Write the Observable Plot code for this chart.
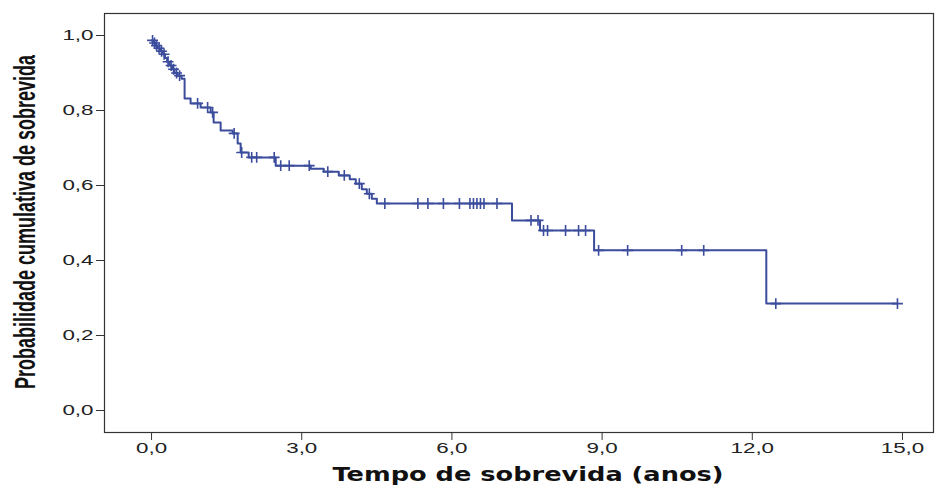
<!DOCTYPE html>
<html>
<head>
<meta charset="utf-8">
<script src="https://cdn.jsdelivr.net/npm/d3@7"></script>
<script src="https://cdn.jsdelivr.net/npm/@observablehq/plot@0.6"></script>
<style>
  body { margin: 0; background: #fff; }
  #chart { position: relative; width: 935px; height: 486px; }
</style>
</head>
<body>
<div id="chart"></div>
<script>
// Kaplan-Meier step curve: time (years) at which survival drops, and survival after the drop
const eventTimes = [0.0, 0.04, 0.08, 0.12, 0.17, 0.22, 0.27, 0.31, 0.36, 0.41, 0.46, 0.52, 0.60, 0.66,
  0.78, 0.98, 1.18, 1.24, 1.38, 1.62, 1.72, 1.78, 1.94, 2.48, 3.18, 3.44, 3.74, 3.96, 4.08, 4.20, 4.30,
  4.40, 4.50, 7.20, 7.76, 8.84, 12.28];
const survival = [0.987, 0.980, 0.973, 0.966, 0.958, 0.950, 0.940, 0.930, 0.920, 0.910, 0.900, 0.893, 0.885, 0.832,
  0.819, 0.808, 0.795, 0.768, 0.747, 0.739, 0.712, 0.688, 0.675, 0.653, 0.645, 0.637, 0.627, 0.617, 0.605, 0.590, 0.578,
  0.565, 0.552, 0.507, 0.480, 0.427, 0.285];
const lastTime = 14.9;

// censored observations (years)
const censorTimes = [0.02, 0.06, 0.10, 0.15, 0.20, 0.25, 0.33, 0.39, 0.44, 0.50, 0.56,
  0.92, 1.12, 1.22, 1.65, 1.80, 2.00, 2.10, 2.45, 2.58, 2.75, 3.15, 3.52, 3.85, 4.15, 4.35, 4.66,
  5.32, 5.52, 5.83, 6.15, 6.36, 6.43, 6.50, 6.57, 6.64, 6.90, 7.58, 7.72, 7.83, 7.91, 8.27, 8.53, 8.67,
  8.93, 9.51, 10.59, 11.03, 12.47, 14.9];

const xTicks = [0, 3, 6, 9, 12, 15];
const yTicks = [0, 0.2, 0.4, 0.6, 0.8, 1.0];
const xTitle = "Tempo de sobrevida (anos)";
const yTitle = "Probabilidade cumulativa de sobrevida";

const curve = eventTimes.map((t, i) => ({t, s: survival[i]}));
curve.push({t: lastTime, s: survival[survival.length - 1]});
function survAt(t) {
  let s = survival[0];
  for (let i = 0; i < eventTimes.length; i++) if (eventTimes[i] <= t) s = survival[i];
  return s;
}
const censors = censorTimes.map(t => ({t, s: survAt(t)}));

const fmt = d => d.toFixed(1).replace(".", ",");
const blue = "#3b4c9c";

const plot = Plot.plot({
  width: 935,
  height: 486,
  marginLeft: 104,
  marginRight: 2,
  marginTop: 13,
  marginBottom: 54,
  style: {fontFamily: "Liberation Sans, Arial, sans-serif", fontSize: "14px", color: "#222"},
  x: {domain: [-0.94, 15.62], label: null},
  y: {domain: [-0.0587, 1.0587], label: null},
  marks: [
    Plot.frame({stroke: "#333", strokeWidth: 1.2}),
    Plot.axisX({ticks: xTicks, tickFormat: fmt, tickSize: 8, tickPadding: 3, label: null, stroke: "#333"}),
    Plot.axisY({ticks: yTicks, tickFormat: fmt, tickSize: 8, tickPadding: 3, label: null, stroke: "#333"}),
    Plot.line(curve, {x: "t", y: "s", curve: "step-after", stroke: blue, strokeWidth: 2}),
    Plot.dot(censors, {x: "t", y: "s", symbol: "plus", r: 3.6, stroke: blue, strokeWidth: 1.6})
  ]
});
document.getElementById("chart").appendChild(plot);

const svg = d3.select(plot);
// horizontally stretched tick labels, as in the reference
svg.selectAll('g[aria-label="x-axis tick label"] text, g[aria-label="y-axis tick label"] text')
  .each(function() {
    const t = this.getAttribute("transform") || "";
    this.setAttribute("transform", t + " scale(1.6,1)");
  });
svg.append("text")
  .attr("transform", "translate(35,222) rotate(-90) scale(1,1.6)")
  .attr("text-anchor", "middle")
  .attr("font-family", "Liberation Sans, Arial, sans-serif")
  .attr("font-weight", "bold")
  .attr("font-size", 18)
  .attr("fill", "#111")
  .text(yTitle);
svg.append("text")
  .attr("transform", "translate(528,481) scale(1.35,1)")
  .attr("text-anchor", "middle")
  .attr("font-family", "DejaVu Sans, Verdana, sans-serif")
  .attr("font-weight", "bold")
  .attr("font-size", 19)
  .attr("fill", "#111")
  .text(xTitle);
</script>
</body>
</html>
